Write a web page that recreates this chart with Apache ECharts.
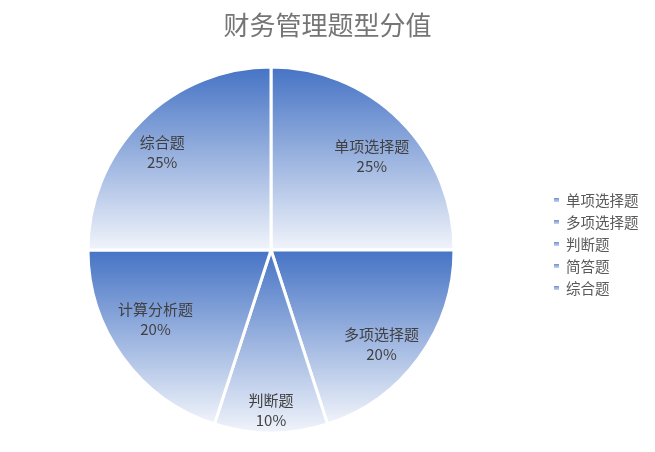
<!DOCTYPE html>
<html>
<head>
<meta charset="utf-8">
<script src="https://cdn.jsdelivr.net/npm/echarts@6/dist/echarts.min.js"></script>
<style>
html,body{margin:0;padding:0;background:#fff;}
#c{width:655px;height:452px;}
</style>
</head>
<body>
<div id="c"></div>
<script>
var titleText = '财务管理题型分值';
var categories = ['单项选择题', '多项选择题', '判断题', '简答题', '综合题'];
var sliceLabels = ['单项选择题', '多项选择题', '判断题', '计算分析题', '综合题'];
var values = [25, 20, 10, 20, 25];

// label nudges (layout only, px)
var labelShift = [[-1, 8], [-6, 10], [0, 16], [1, -15], [-7, 4]];

var chart = echarts.init(document.getElementById('c'));
function grad() {
  return new echarts.graphic.LinearGradient(0, 0, 0, 1, [
    {offset: 0, color: '#4472C4'},
    {offset: 1, color: '#F2F5FB'}
  ]);
}
var pieData = categories.map(function (n, i) {
  return {name: n, value: values[i], itemStyle: {color: grad()}};
});
var labelData = categories.map(function (n, i) {
  return {name: n, value: values[i]};
});
var font = '"Noto Sans CJK SC", "Noto Sans", sans-serif';
chart.setOption({
  backgroundColor: '#ffffff',
  animation: false,
  title: {
    text: titleText,
    left: 'center',
    top: 7,
    textStyle: {fontFamily: font, fontSize: 26, fontWeight: 'normal', color: '#757575'}
  },
  legend: {
    orient: 'vertical',
    left: 547,
    top: 187,
    itemWidth: 7,
    itemHeight: 6,
    itemGap: 6,
    icon: 'rect',
    data: categories,
    textStyle: {fontFamily: font, fontSize: 14.5, color: '#595959', lineHeight: 16, padding: [0, 0, 0, 1]}
  },
  series: [
    {
      type: 'pie',
      center: [271, 250],
      radius: [0, 183],
      startAngle: 90,
      clockwise: true,
      silent: true,
      label: {show: false},
      labelLine: {show: false},
      itemStyle: {borderColor: '#ffffff', borderWidth: 3},
      data: pieData
    },
    {
      type: 'pie',
      center: [271, 250],
      radius: [99, 183],
      startAngle: 90,
      clockwise: true,
      silent: true,
      itemStyle: {color: 'rgba(0,0,0,0)'},
      label: {
        show: true,
        position: 'inside',
        fontFamily: font,
        fontSize: 15,
        lineHeight: 20,
        color: '#404040',
        formatter: function (p) {
          return sliceLabels[p.dataIndex] + '\n' + Math.round(p.percent) + '%';
        }
      },
      labelLayout: function (p) {
        var s = labelShift[p.dataIndex];
        return {dx: s[0], dy: s[1]};
      },
      labelLine: {show: false},
      data: labelData
    }
  ]
});
</script>
</body>
</html>
